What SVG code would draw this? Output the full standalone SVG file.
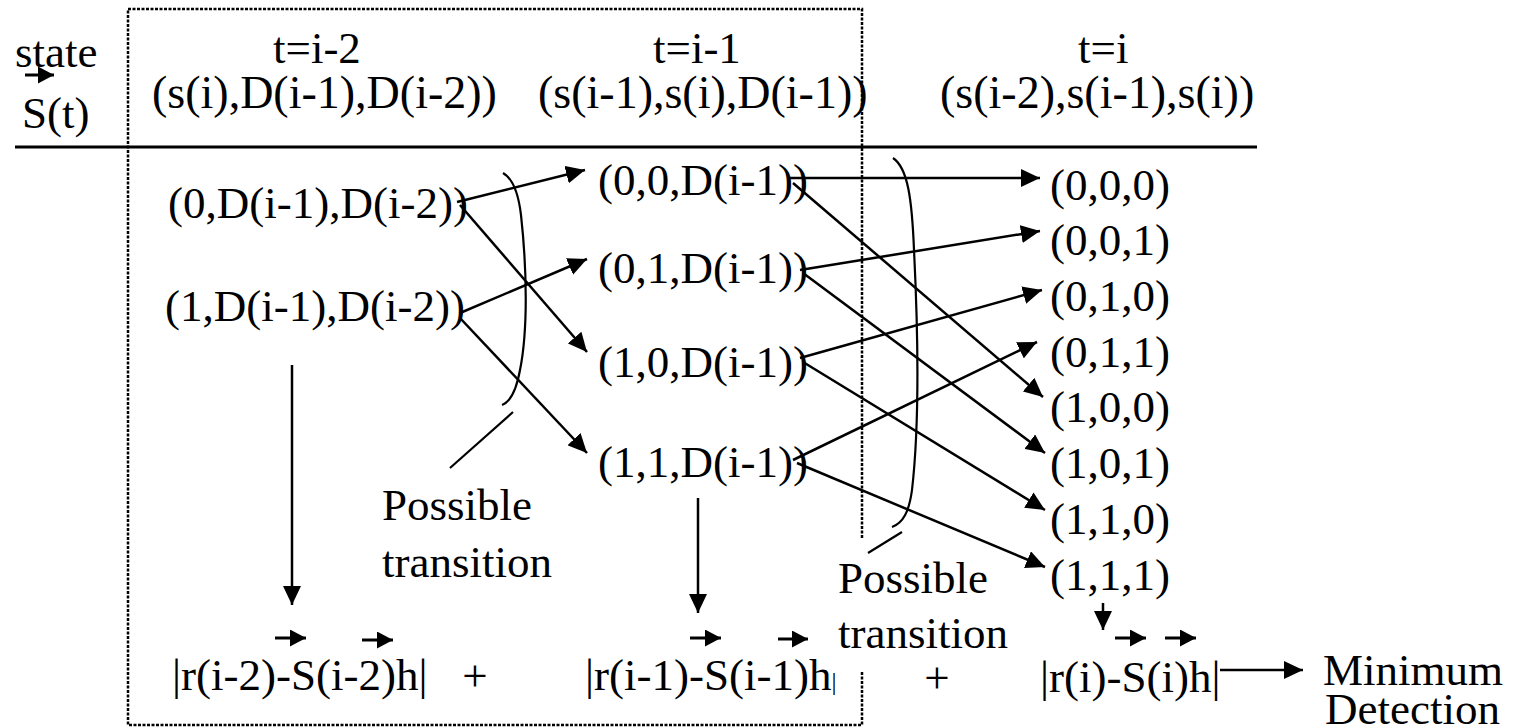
<svg xmlns="http://www.w3.org/2000/svg" width="1525" height="728" viewBox="0 0 1525 728" font-family="'Liberation Serif', 'DejaVu Serif', serif">
<style>
text{font-family:'Liberation Serif','Times New Roman',serif;font-size:45px;fill:#000}
.h2{font-size:46px}
.ln{stroke:#000;stroke-width:2.5;fill:none}
.vl{stroke:#000;stroke-width:3;fill:none}
.br{stroke:#000;stroke-width:2.2;fill:none}
.dot{stroke:#000;stroke-width:2.5;fill:none;stroke-dasharray:3 1.5}
</style>
<defs>
<marker id="ah" markerUnits="userSpaceOnUse" markerWidth="20" markerHeight="18" refX="19" refY="9" orient="auto">
<path d="M0,0 L19,9 L0,18 z" fill="#000"/>
</marker>
<marker id="vh" markerUnits="userSpaceOnUse" markerWidth="17" markerHeight="17" refX="16" refY="8.5" orient="auto">
<path d="M0,0 L16,8.5 L0,17 z" fill="#000"/>
</marker>
</defs>
<rect width="1525" height="728" fill="#fff"/>

<path class="dot" d="M862,538 L862,9 L128,9 L128,725 L862,725 L862,672"/>
<line x1="15" y1="147" x2="1257" y2="147" stroke="#000" stroke-width="3"/>

<g id="header">
<text x="15" y="67">state</text>
<text x="22" y="128">S(t)</text>
<text x="273" y="63">t=i-2</text>
<text class="h2" x="152" y="108">(s(i),D(i-1),D(i-2))</text>
<text x="653" y="63">t=i-1</text>
<text class="h2" x="538" y="108">(s(i-1),s(i),D(i-1))</text>
<text x="1078" y="63">t=i</text>
<text class="h2" x="940" y="108">(s(i-2),s(i-1),s(i))</text>
</g>

<g id="n_0DD"><text x="168" y="218">(0,D(i-1),D(i-2))</text></g>
<g id="n_1DD"><text x="165" y="321">(1,D(i-1),D(i-2))</text></g>

<g id="n_00D"><text x="598" y="195">(0,0,D(i-1))</text></g>
<g id="n_01D"><text x="598" y="283">(0,1,D(i-1))</text></g>
<g id="n_10D"><text x="598" y="377">(1,0,D(i-1))</text></g>
<g id="n_11D"><text x="598" y="477">(1,1,D(i-1))</text></g>

<g id="n_000"><text x="1050" y="200">(0,0,0)</text></g>
<g id="n_001"><text x="1050" y="255">(0,0,1)</text></g>
<g id="n_010"><text x="1050" y="311">(0,1,0)</text></g>
<g id="n_011"><text x="1050" y="367">(0,1,1)</text></g>
<g id="n_100"><text x="1050" y="422">(1,0,0)</text></g>
<g id="n_101"><text x="1050" y="478">(1,0,1)</text></g>
<g id="n_110"><text x="1050" y="534">(1,1,0)</text></g>
<g id="n_111"><text x="1050" y="590">(1,1,1)</text></g>

<g id="label1">
<text x="382" y="520">Possible</text>
<text x="382" y="577">transition</text>
</g>
<g id="label2">
<text x="838" y="593">Possible</text>
<text x="838" y="648">transition</text>
</g>

<g id="f1"><text x="172" y="690">|r(i-2)-S(i-2)h|</text></g>
<g id="plus1"><text x="475" y="691" text-anchor="middle">+</text></g>
<g id="f2"><text x="585" y="690">|r(i-1)-S(i-1)h<tspan font-size="25">|</tspan></text></g>
<g id="plus2"><text x="937" y="693" text-anchor="middle">+</text></g>
<g id="f3"><text x="1040" y="692">|r(i)-S(i)h|</text></g>
<g id="result">
<text x="1323" y="685">Minimum</text>
<text x="1325" y="724">Detection</text>
</g>

<g id="vectors">
<line class="vl" x1="25" y1="75" x2="54" y2="75" marker-end="url(#vh)"/>
<line class="vl" x1="275" y1="638" x2="306" y2="638" marker-end="url(#vh)"/>
<line class="vl" x1="362" y1="640" x2="393" y2="640" marker-end="url(#vh)"/>
<line class="vl" x1="690" y1="638" x2="721" y2="638" marker-end="url(#vh)"/>
<line class="vl" x1="778" y1="639" x2="808" y2="639" marker-end="url(#vh)"/>
<line class="vl" x1="1115" y1="638" x2="1146" y2="638" marker-end="url(#vh)"/>
<line class="vl" x1="1165" y1="638" x2="1196" y2="638" marker-end="url(#vh)"/>
</g>

<g id="brackets">
<path class="br" d="M503,173 C512,178 518,190 521,215 C527,270 528,330 520,370 C516,392 510,402 502,405"/>
<line class="br" x1="513" y1="412" x2="450" y2="468"/>
<path class="br" d="M893,158 C908,168 912,200 914,250 C918,330 920,420 912,490 C909,512 903,523 892,527"/>
<line class="br" x1="902" y1="532" x2="868" y2="553"/>
</g>

<g id="connectors">
<line class="ln" x1="457" y1="202" x2="585" y2="170" marker-end="url(#ah)"/>
<line class="ln" x1="460" y1="205" x2="587" y2="352" marker-end="url(#ah)"/>
<line class="ln" x1="460" y1="313" x2="587" y2="259" marker-end="url(#ah)"/>
<line class="ln" x1="460" y1="318" x2="587" y2="453" marker-end="url(#ah)"/>
<line class="ln" x1="790" y1="178" x2="1040" y2="178" marker-end="url(#ah)"/>
<line class="ln" x1="793" y1="183" x2="1043" y2="397" marker-end="url(#ah)"/>
<line class="ln" x1="800" y1="270" x2="1040" y2="231" marker-end="url(#ah)"/>
<line class="ln" x1="803" y1="273" x2="1045" y2="453" marker-end="url(#ah)"/>
<line class="ln" x1="800" y1="358" x2="1042" y2="290" marker-end="url(#ah)"/>
<line class="ln" x1="803" y1="362" x2="1045" y2="510" marker-end="url(#ah)"/>
<line class="ln" x1="793" y1="460" x2="1037" y2="342" marker-end="url(#ah)"/>
<line class="ln" x1="797" y1="463" x2="1045" y2="567" marker-end="url(#ah)"/>
<line class="ln" x1="292" y1="365" x2="292" y2="605" marker-end="url(#ah)"/>
<line class="ln" x1="698" y1="498" x2="698" y2="613" marker-end="url(#ah)"/>
<line class="ln" x1="1103" y1="603" x2="1103" y2="630" marker-end="url(#ah)"/>
<line class="ln" x1="1220" y1="670" x2="1303" y2="670" marker-end="url(#ah)"/>
</g>
</svg>
